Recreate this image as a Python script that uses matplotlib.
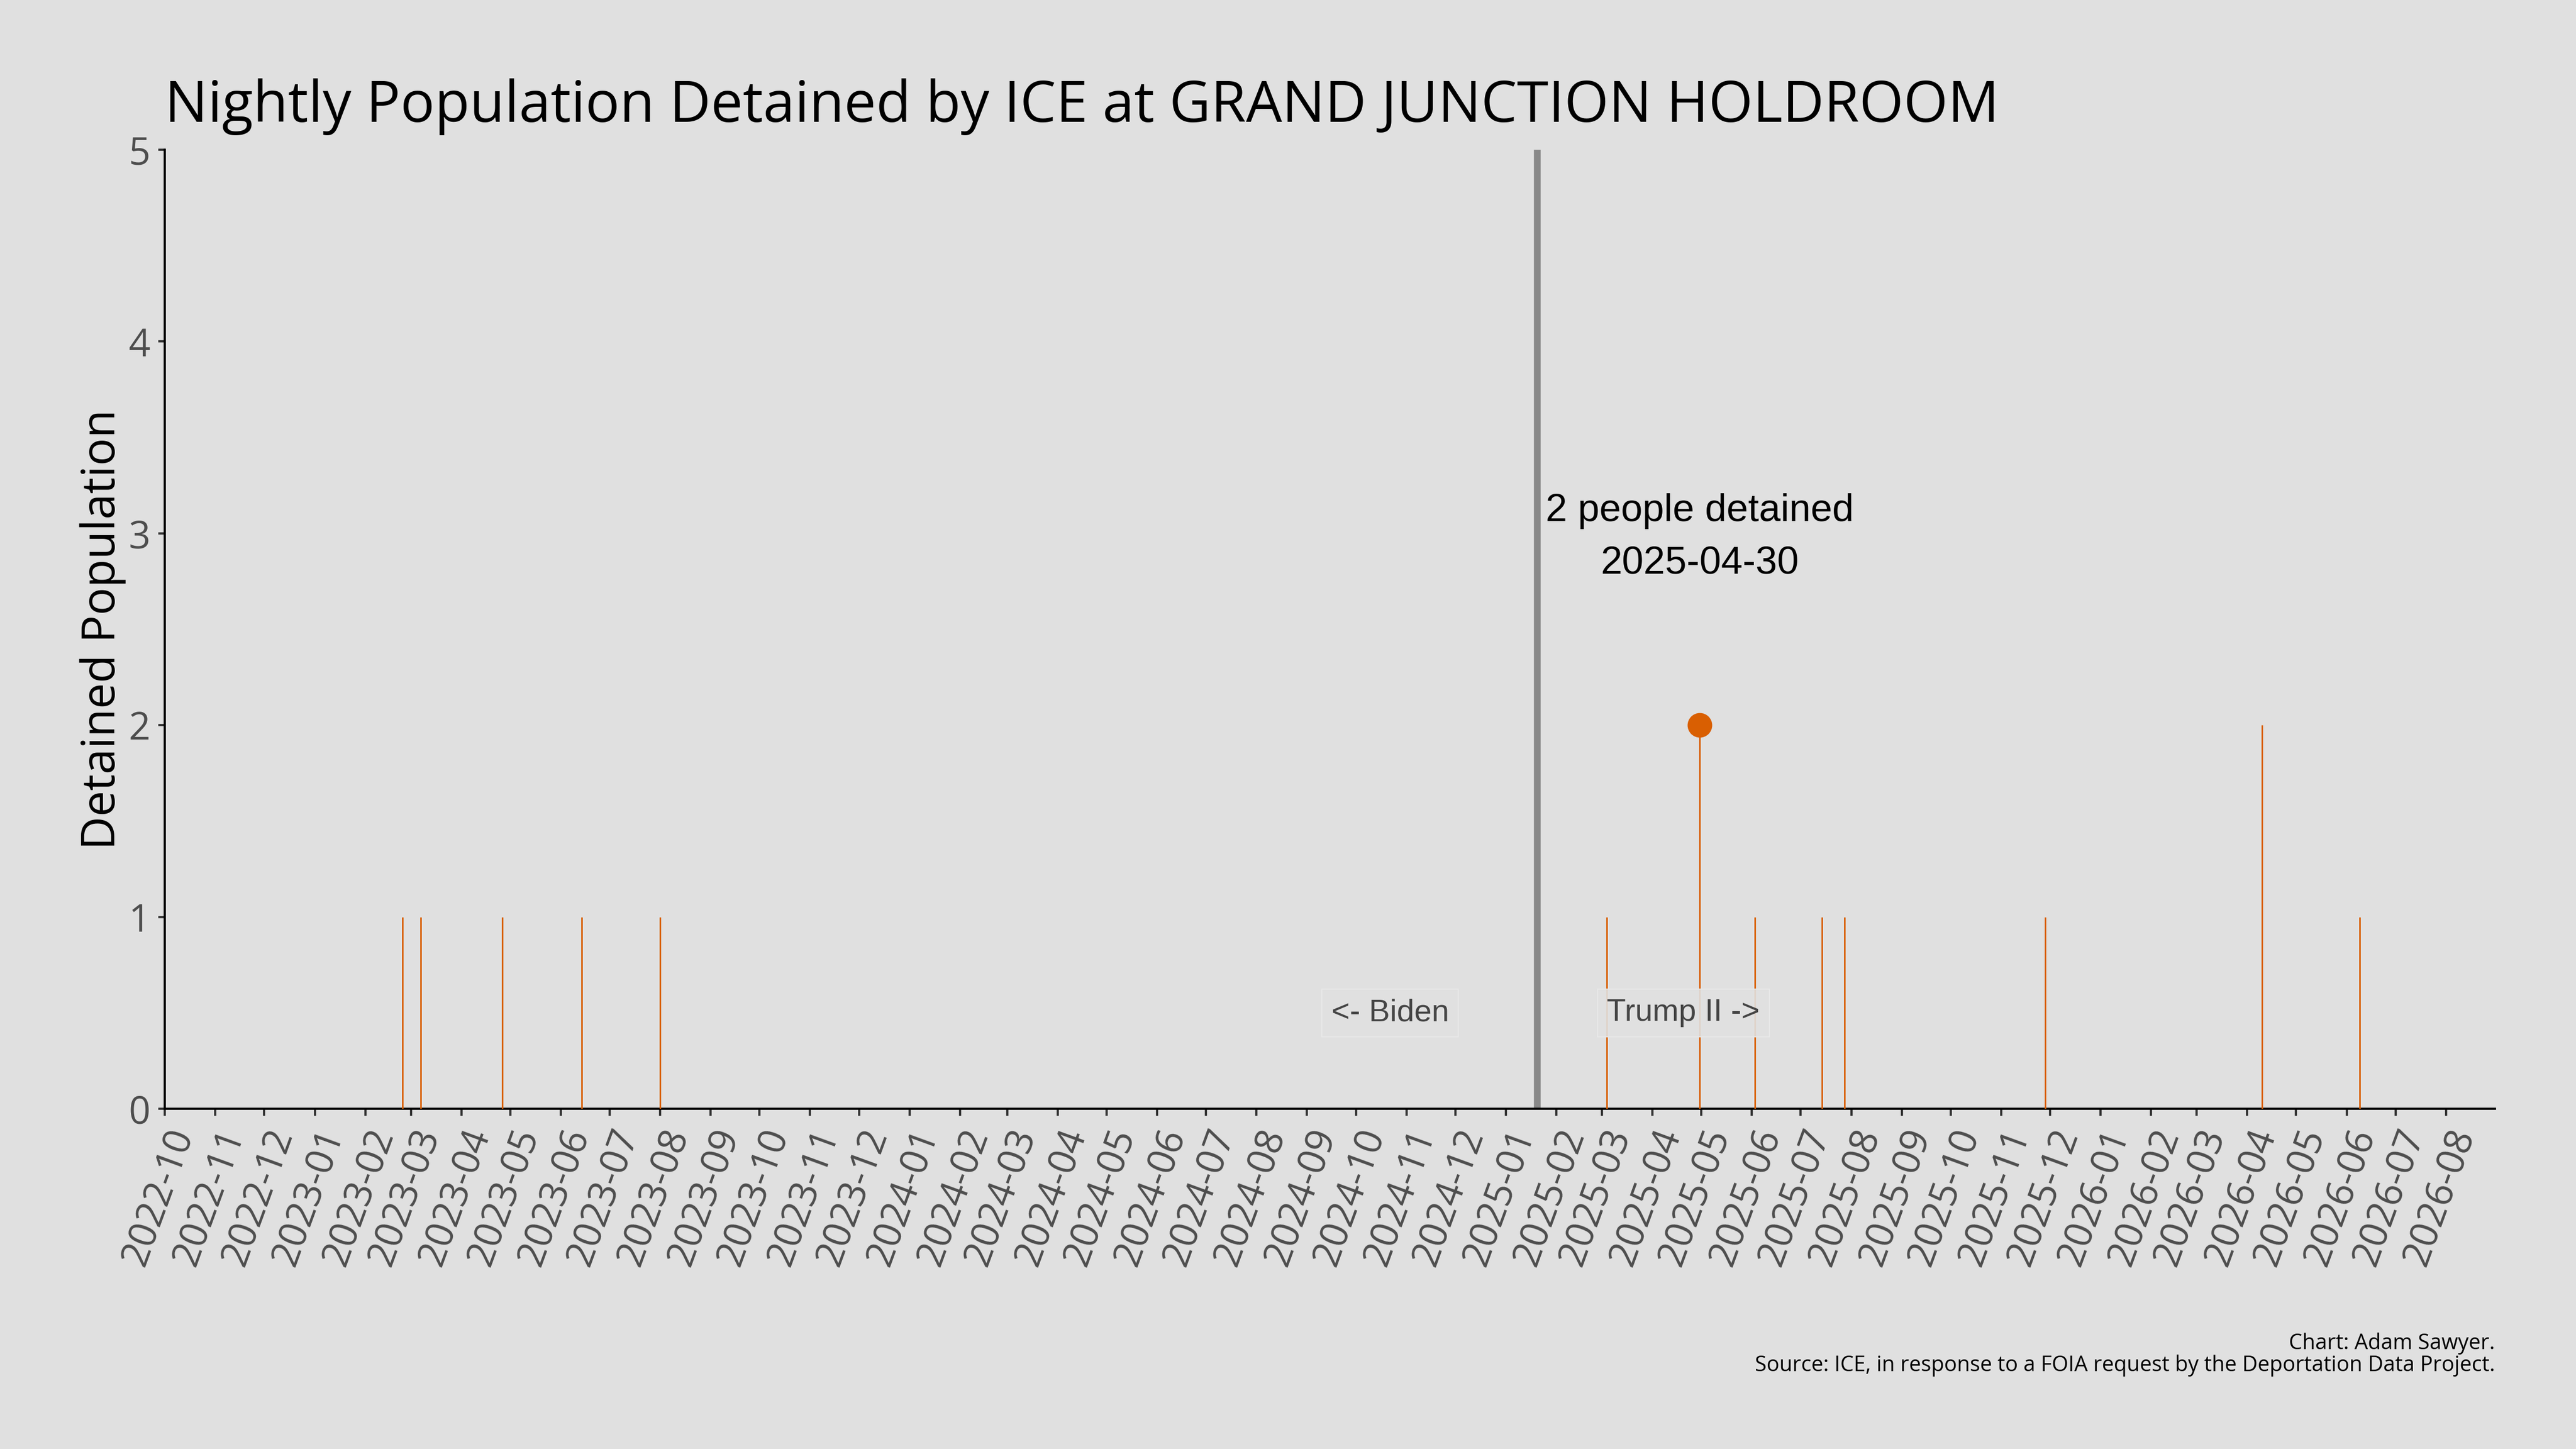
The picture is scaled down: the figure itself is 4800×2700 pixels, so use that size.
import numpy as np
import pandas as pd
import matplotlib
matplotlib.use("Agg")
import matplotlib.pyplot as plt
import matplotlib.dates as mdates

# nights with a non-zero detained population
night_dates = pd.to_datetime([
    "2023-02-24", "2023-03-07", "2023-04-26", "2023-06-14", "2023-08-01",
    "2025-03-04", "2025-04-30", "2025-06-03", "2025-07-14", "2025-07-28",
    "2025-11-28", "2026-04-10", "2026-06-09",
])
night_pop = [1, 1, 1, 1, 1, 1, 2, 1, 1, 1, 1, 2, 1]

peak_date = pd.Timestamp("2025-04-30")
peak_pop = 2
inauguration = pd.Timestamp("2025-01-20")
x_start = pd.Timestamp("2022-10-01")
x_end = pd.Timestamp("2026-08-31")

BG = "#e0e0e0"
ORANGE = "#d95f02"
plt.rcParams["font.family"] = ["Open Sans", "DejaVu Sans"]

fig = plt.figure(figsize=(16, 9), dpi=300, facecolor=BG)
ax = fig.add_axes([0.064, 0.2348, 0.9045, 0.6619])
ax.set_facecolor(BG)

# daily spikes
ax.vlines(night_dates, 0, night_pop, color=ORANGE, linewidth=0.7, zorder=3)
ax.plot([peak_date], [peak_pop], "o", color=ORANGE, markersize=10, zorder=4)

# administration change
ax.axvline(inauguration, color="#888888", linewidth=3, zorder=2)

label_box = dict(boxstyle="square,pad=0.3", facecolor=BG, alpha=0.9,
                 edgecolor="#e9e9e9", linewidth=0.5)
ax.text(inauguration - pd.Timedelta(days=90), 0.5, "<- Biden", ha="center", va="center",
        fontsize=14, color="#444444", family=["Liberation Sans"], bbox=label_box, zorder=5)
ax.text(inauguration + pd.Timedelta(days=90), 0.5, "Trump II ->", ha="center", va="center",
        fontsize=14, color="#444444", family=["Liberation Sans"], bbox=label_box, zorder=5)

# va="baseline" aligns the last line here
ax.text(peak_date, 2.79, f"{peak_pop} people detained\n{peak_date:%Y-%m-%d}",
        ha="center", va="baseline", fontsize=17.3, color="black",
        family=["Liberation Sans"], linespacing=1.6, zorder=5)

ax.set_xlim(x_start, x_end)
ax.set_ylim(0, 5)
ax.set_yticks(range(0, 6))
ax.xaxis.set_major_locator(mdates.MonthLocator())
ax.xaxis.set_major_formatter(mdates.DateFormatter("%Y-%m"))

for side in ["top", "right"]:
    ax.spines[side].set_visible(False)
for side in ["left", "bottom"]:
    ax.spines[side].set_color("black")
    ax.spines[side].set_linewidth(1.0)

ax.tick_params(axis="both", labelsize=17, labelcolor="#4d4d4d", color="#333333",
               length=3, width=1)
plt.setp(ax.get_xticklabels(), rotation=70, ha="right", va="top", rotation_mode="anchor")

ax.set_ylabel("Detained Population", fontsize=20.6, color="black")
ax.yaxis.set_label_coords(-0.0166, 0.5)
ax.set_title("Nightly Population Detained by ICE at GRAND JUNCTION HOLDROOM",
             loc="left", fontsize=25.5, color="black", pad=12.5)

fig.text(0.9685, 0.05, "Chart: Adam Sawyer.\nSource: ICE, in response to a FOIA request by the Deportation Data Project.",
         ha="right", va="bottom", fontsize=9.5, color="black", linespacing=1.0)

fig.savefig("out.png", dpi=300, facecolor=BG)
